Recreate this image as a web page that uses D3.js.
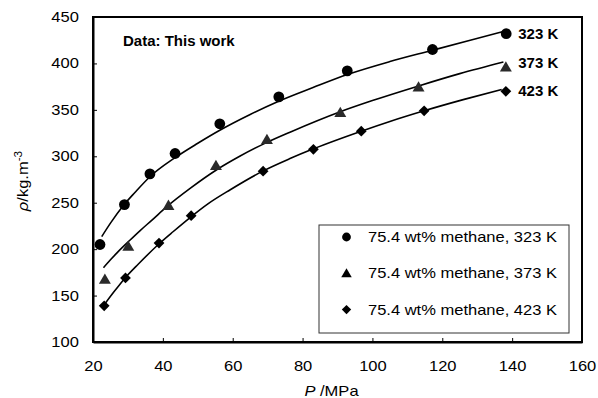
<!DOCTYPE html>
<html>
<head>
<meta charset="utf-8">
<script src="https://cdn.jsdelivr.net/npm/d3@7"></script>
<style>
  html, body { margin: 0; padding: 0; background: #fff; }
  svg { display: block; font-family: "Liberation Sans", Arial, Helvetica, sans-serif; }
</style>
</head>
<body>
<svg id="chart" width="598" height="398"></svg>
<script>
// Measured densities of the 75.4 wt% methane mixture
const seriesNames = ["75.4 wt% methane, 323 K", "75.4 wt% methane, 373 K", "75.4 wt% methane, 423 K"];
const endLabels = ["323 K", "373 K", "423 K"];

const p323 = [22, 29, 36.3, 43.5, 56.3, 73.2, 92.8, 117.2, 138.3];
const rho323 = [205, 248, 281, 303, 335, 364, 392, 415, 432];
const p373 = [23.4, 30.1, 41.6, 55.2, 69.8, 90.8, 113.2, 138.2];
const rho373 = [167.5, 203, 247, 290, 318, 347, 374.5, 396];
const p423 = [23.2, 29.3, 38.9, 48.1, 68.7, 83.1, 96.8, 114.8, 138.2];
const rho423 = [139, 169, 206.5, 236, 284, 307.5, 327, 349, 370];

// Correlation curves drawn through each isotherm
const fitP323 = [22.5, 25, 28.7, 32, 36.3, 43.3, 50, 56.3, 65, 73, 83, 92.8, 105, 117, 128, 138];
const fitRho323 = [213.5, 228, 247, 261, 278, 298, 314, 328, 345, 359, 374, 388, 402, 414, 425, 435];
const fitP373 = [23, 25, 27, 30.4, 33.5, 36.8, 41.2, 48, 55.2, 62, 69.8, 76.4, 90.8, 100, 113, 125, 137.5];
const fitRho373 = [180, 188.5, 196.5, 209, 220, 231, 246, 266, 285, 300, 315, 326, 348, 360, 375.5, 389, 401.5];
const fitP423 = [23.4, 26, 29.2, 33, 38.7, 43, 47.8, 53, 59.3, 68.6, 76.4, 83.1, 96.8, 105, 114.8, 126, 137];
const fitRho423 = [141, 154, 169, 184, 205, 219, 234, 249, 264, 284, 297.5, 308, 327, 337.5, 349, 361, 372];

const xTicks = [20, 40, 60, 80, 100, 120, 140, 160];
const yTicks = [100, 150, 200, 250, 300, 350, 400, 450];

const zip = (xs, ys) => xs.map((v, i) => [v, ys[i]]);
const series = [
  { name: seriesNames[0], label: endLabels[0], shape: "circle",   pts: zip(p323, rho323), fit: zip(fitP323, fitRho323) },
  { name: seriesNames[1], label: endLabels[1], shape: "triangle", pts: zip(p373, rho373), fit: zip(fitP373, fitRho373) },
  { name: seriesNames[2], label: endLabels[2], shape: "diamond",  pts: zip(p423, rho423), fit: zip(fitP423, fitRho423) }
];

const W = 598, H = 398;
const m = { left: 93, right: 16, top: 17, bottom: 56 };
const svg = d3.select("#chart");

const x = d3.scaleLinear().domain([20, 160]).range([m.left, W - m.right]);
const y = d3.scaleLinear().domain([100, 450]).range([H - m.bottom, m.top]);

const SX = 1.18; // horizontal stretch of the regular lettering

// frame
svg.append("rect")
  .attr("x", x(20)).attr("y", y(450))
  .attr("width", x(160) - x(20)).attr("height", y(100) - y(450))
  .attr("fill", "none").attr("stroke", "#000").attr("stroke-width", 2);

// axes with small inward ticks
const gx = svg.append("g").attr("transform", `translate(0,${y(100)})`)
  .call(d3.axisBottom(x).tickValues(xTicks).tickSizeInner(-4).tickSizeOuter(0).tickPadding(19.5));
const gy = svg.append("g").attr("transform", `translate(${x(20)},0)`)
  .call(d3.axisLeft(y).tickValues(yTicks).tickSizeInner(-4).tickSizeOuter(0).tickPadding(12));
[gx, gy].forEach(g => {
  g.select(".domain").attr("stroke-width", 2);
  g.selectAll(".tick line").attr("stroke-width", 1);
  g.selectAll(".tick text")
    .attr("font-size", 14)
    .attr("font-family", "'Liberation Sans', Arial, sans-serif")
    .attr("fill", "#000");
});
gx.selectAll(".tick text").attr("transform", `scale(${SX},1)`);
gy.selectAll(".tick text").attr("transform", `scale(${SX},1)`);

// curves
const line = d3.line().x(d => x(d[0])).y(d => y(d[1])).curve(d3.curveMonotoneX);
series.forEach(s => {
  svg.append("path").datum(s.fit)
    .attr("d", line)
    .attr("fill", "none").attr("stroke", "#000").attr("stroke-width", 1.6);
});

// marker shapes
function marker(g, shape, big) {
  if (shape === "circle") {
    g.append("circle").attr("r", big ? 5.4 : 4.4).attr("fill", "#000");
  } else if (shape === "triangle") {
    g.append("path").attr("d", d3.symbol(d3.symbolTriangle, big ? 62 : 48)()).attr("fill", big ? "#2a2a2a" : "#000")
      .attr("transform", "translate(0,1)");
  } else {
    g.append("path").attr("d", d3.symbol(d3.symbolSquare, big ? 58 : 44)()).attr("fill", "#000")
      .attr("transform", "rotate(45)");
  }
}

series.forEach(s => {
  svg.append("g").selectAll("g").data(s.pts).join("g")
    .attr("transform", d => `translate(${x(d[0])},${y(d[1])})`)
    .each(function () { marker(d3.select(this), s.shape, true); });
});

// isotherm labels at the curve ends
const labelRho = [432, 400, 370];
series.forEach((s, i) => {
  svg.append("text")
    .attr("x", x(138.3) + 12)
    .attr("y", y(labelRho[i]) + 5)
    .attr("font-size", 15).attr("font-weight", "bold")
    .text(s.label);
});

// source note
svg.append("text")
  .attr("x", x(20) + 30).attr("y", 46)
  .attr("font-size", 15).attr("font-weight", "bold")
  .text("Data: This work");

// legend
const lg = svg.append("g").attr("transform", "translate(319,225)");
lg.append("rect").attr("width", 250).attr("height", 108)
  .attr("fill", "#fff").attr("stroke", "#333").attr("stroke-width", 1);
series.forEach((s, i) => {
  const row = lg.append("g").attr("transform", `translate(0,${12 + i * 36.3})`);
  const mk = row.append("g").attr("transform", "translate(27.5,0)");
  marker(mk, s.shape, false);
  row.append("text")
    .attr("transform", `translate(49,5) scale(${SX},1)`)
    .attr("font-size", 14)
    .text(s.name);
});

// axis titles
const xt = svg.append("text")
  .attr("transform", `translate(${331.5},396) scale(${SX},1)`)
  .attr("text-anchor", "middle").attr("font-size", 14);
xt.append("tspan").attr("font-style", "italic").text("P");
xt.append("tspan").text(" /MPa");

const yt = svg.append("text")
  .attr("transform", `translate(28,181) rotate(-90) scale(${SX},1)`)
  .attr("text-anchor", "middle").attr("font-size", 14);
yt.append("tspan").attr("font-style", "italic").text("ρ");
yt.append("tspan").text("/kg.m");
yt.append("tspan").attr("font-size", 10).attr("dy", -6).text("-3");
</script>
</body>
</html>
